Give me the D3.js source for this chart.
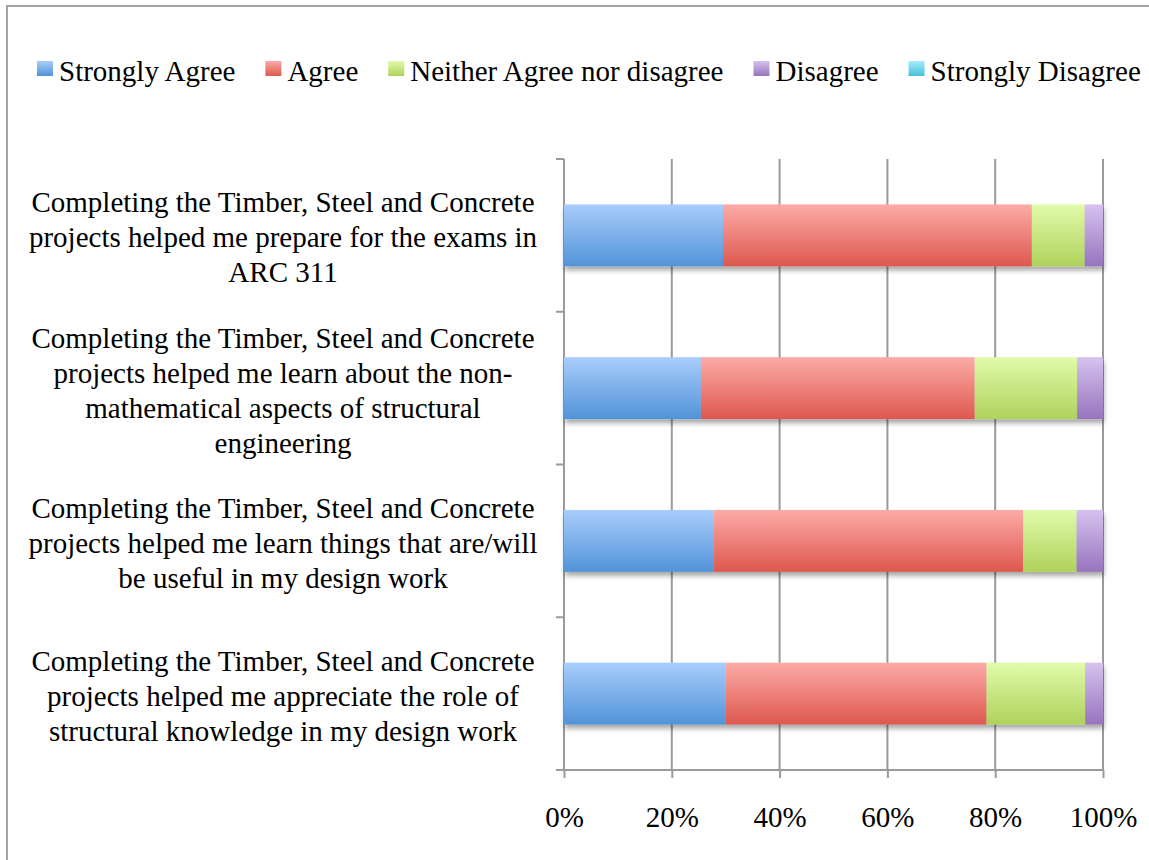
<!DOCTYPE html>
<html>
<head>
<meta charset="utf-8">
<script src="https://cdn.jsdelivr.net/npm/d3@7"></script>
<style>
  body { margin: 0; background: #fff; }
  #chart-div { width: 1149px; height: 860px; }
  text { font-family: "Liberation Serif", "Times New Roman", serif; fill: #000; }
</style>
</head>
<body>
<div id="chart-div"></div>
<script>
// categories, top to bottom
let questions = [
    ["Completing the Timber, Steel and Concrete", "projects helped me prepare for the exams in", "ARC 311"],
    ["Completing the Timber, Steel and Concrete", "projects helped me learn about the non-", "mathematical aspects of structural", "engineering"],
    ["Completing the Timber, Steel and Concrete", "projects helped me learn things that are/will", "be useful in my design work"],
    ["Completing the Timber, Steel and Concrete", "projects helped me appreciate the role of", "structural knowledge in my design work"]
];
let seriesNames = ["Strongly Agree", "Agree", "Neither Agree nor disagree", "Disagree", "Strongly Disagree"];

// percentages per series, same order as questions
let stronglyAgree     = [29.5, 25.4, 27.8, 30.0];
let agree             = [57.3, 50.8, 57.4, 48.4];
let neither           = [9.8, 19.0, 9.9, 18.3];
let disagree          = [3.4, 4.8, 4.9, 3.3];
let stronglyDisagree  = [0, 0, 0, 0];

let tickValues = [0, 20, 40, 60, 80, 100];

function stackedbarchart() {
    let width = 1149, height = 860;
    let margin = {top: 159, left: 564, right: 45, bottom: 90};
    let innerW = width - margin.left - margin.right,
        innerH = height - margin.top - margin.bottom;

    let seriesValues = [stronglyAgree, agree, neither, disagree, stronglyDisagree];
    // light top / darker bottom, like the office bevel fill
    let colorTop = ["#a9cdfc", "#fcaba7", "#e1fbab", "#d6c2ef", "#a3edf9"];
    let colorBot = ["#5193d8", "#dd584e", "#afd25b", "#9774be", "#47c0db"];

    let svg = d3.select("#chart-div").append("svg")
        .attr("width", width)
        .attr("height", height);

    let defs = svg.append("defs");
    seriesNames.forEach(function (s, i) {
        let g = defs.append("linearGradient")
            .attr("id", "grad" + i)
            .attr("x1", 0).attr("y1", 0).attr("x2", 0).attr("y2", 1);
        g.append("stop").attr("offset", "0%").attr("stop-color", colorTop[i]);
        g.append("stop").attr("offset", "100%").attr("stop-color", colorBot[i]);
    });
    let shadow = defs.append("filter").attr("id", "shadow")
        .attr("x", "-5%").attr("y", "-20%").attr("width", "115%").attr("height", "160%");
    shadow.append("feDropShadow")
        .attr("dx", 1).attr("dy", 4).attr("stdDeviation", 2.5)
        .attr("flood-color", "#000").attr("flood-opacity", 0.35);

    // outer chart frame (runs off the right/bottom edge)
    svg.append("rect")
        .attr("x", 7).attr("y", 6)
        .attr("width", 1300).attr("height", 1000)
        .attr("fill", "none")
        .attr("stroke", "#a3a3a3")
        .attr("stroke-width", 2);

    // legend
    let legend = svg.append("g").attr("transform", "translate(37,0)");
    let lx = 0;
    seriesNames.forEach(function (s, i) {
        legend.append("rect")
            .attr("x", lx).attr("y", 61)
            .attr("width", 16).attr("height", 15)
            .attr("fill", "url(#grad" + i + ")");
        let t = legend.append("text")
            .attr("x", lx + 22).attr("y", 81)
            .style("font-size", "29px")
            .text(s);
        lx += 22 + t.node().getComputedTextLength() + 30;
    });

    let g = svg.append("g")
        .attr("transform", "translate(" + margin.left + "," + margin.top + ")");

    let x = d3.scaleLinear().domain([0, 100]).range([0, innerW - 1]);
    let y = d3.scaleBand()
        .domain(d3.range(questions.length))
        .range([0, innerH])
        .padding(0);

    // gridlines
    g.selectAll(".grid")
        .data(tickValues)
        .enter().append("line")
        .attr("class", "grid")
        .attr("x1", function (d) { return x(d); })
        .attr("x2", function (d) { return x(d); })
        .attr("y1", 0)
        .attr("y2", innerH)
        .attr("stroke", "#9a9a9a")
        .attr("stroke-width", 2);

    // x axis
    let xAxis = d3.axisBottom(x)
        .tickValues(tickValues)
        .tickFormat(function (d) { return d + "%"; })
        .tickSize(8)
        .tickSizeOuter(0)
        .tickPadding(28);
    let xg = g.append("g")
        .attr("class", "x axis")
        .attr("transform", "translate(0," + innerH + ")")
        .call(xAxis);
    xg.select(".domain").attr("stroke", "#9a9a9a").attr("stroke-width", 2)
        .attr("d", "M-8,0H" + x(100));
    xg.selectAll(".tick line").attr("stroke", "#9a9a9a").attr("stroke-width", 2);
    xg.selectAll("text")
        .style("font-size", "29px")
        .style("font-family", "Liberation Serif, Times New Roman, serif")
        .attr("fill", "#000");

    // y axis: boundary ticks between categories
    let bounds = d3.range(questions.length + 1).map(function (i) { return i * y.step(); });
    g.append("line")
        .attr("x1", 0).attr("x2", 0).attr("y1", 0).attr("y2", innerH)
        .attr("stroke", "#9a9a9a").attr("stroke-width", 2);
    g.selectAll(".ytick")
        .data(bounds)
        .enter().append("line")
        .attr("class", "ytick")
        .attr("x1", -8).attr("x2", 0)
        .attr("y1", function (d) { return d; })
        .attr("y2", function (d) { return d; })
        .attr("stroke", "#9a9a9a").attr("stroke-width", 2);

    // stacked bars
    let rows = questions.map(function (q, i) {
        let start = 0;
        return seriesValues.map(function (vals, s) {
            let seg = {row: i, series: s, x0: start, x1: start + vals[i]};
            start += vals[i];
            return seg;
        }).filter(function (d) { return d.x1 > d.x0; });
    });

    let barH = y.bandwidth() * 0.405;
    let bars = g.selectAll(".bar")
        .data(rows)
        .enter().append("g")
        .attr("class", "bar")
        .attr("filter", "url(#shadow)")
        .attr("transform", function (d, i) {
            return "translate(0," + (y(i) + y.bandwidth() / 2 - barH / 2) + ")";
        });

    bars.selectAll("rect")
        .data(function (d) { return d; })
        .enter().append("rect")
        .attr("x", function (d) { return x(d.x0); })
        .attr("width", function (d) { return x(d.x1) - x(d.x0); })
        .attr("height", barH)
        .attr("fill", function (d) { return "url(#grad" + d.series + ")"; });

    // category labels
    let lineH = 35;
    let labels = svg.selectAll(".qlabel")
        .data(questions)
        .enter().append("text")
        .attr("class", "qlabel")
        .attr("text-anchor", "middle")
        .style("font-size", "29px");
    labels.each(function (lines, i) {
        let cy = margin.top + y(i) + y.bandwidth() / 2 + 12;
        d3.select(this).selectAll("tspan")
            .data(lines)
            .enter().append("tspan")
            .attr("x", 283)
            .attr("y", function (d, k) { return cy + (k - (lines.length - 1) / 2) * lineH; })
            .text(function (d) { return d; });
    });
}

stackedbarchart();
</script>
</body>
</html>
